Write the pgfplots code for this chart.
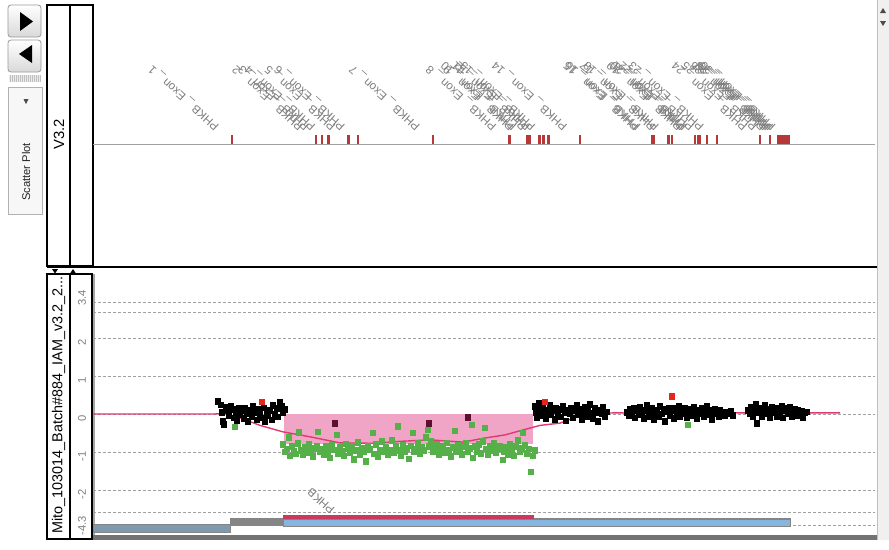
\documentclass[border=0pt]{standalone}
\usepackage{pgfplots}
\pgfplotsset{compat=1.18}
\usepackage{fontspec}
\setmainfont{Liberation Sans}

\definecolor{exred}{HTML}{B8383A}
\definecolor{lblgray}{HTML}{7E7E7E}
\definecolor{tickgray}{HTML}{808080}
\definecolor{gridgray}{HTML}{A0A0A0}
\definecolor{ptgreen}{HTML}{55B04A}
\definecolor{ptred}{HTML}{E8251A}
\definecolor{ptmaroon}{HTML}{5C0F2E}
\definecolor{segpink}{HTML}{F1A5C6}
\definecolor{avgline}{HTML}{DF3A74}
\definecolor{cnvred}{HTML}{C93A5E}
\definecolor{cnvblue}{HTML}{86B6E0}
\definecolor{trackgray}{HTML}{858585}
\definecolor{trackslate}{HTML}{7F9AB0}

\newcommand\fs[1]{\fontsize{#1}{#1}\selectfont}
% exon label: start of text sits just left of / above the exon tick
\newcommand\exonlabel[2]{\node[rotate=138, anchor=west, inner sep=0pt, text=lblgray, font=\fs{5.8pt}] at (axis cs:#1-13.7,16) {PHKB \_ Exon \_ #2};}

\begin{document}
\begin{tikzpicture}
\begin{scope}[x=0.5pt,y=-0.5pt]
  \useasboundingbox (0,0) rectangle (889,540);
  \fill[white] (0,0) rectangle (889,540);
  % navigation buttons
  \shadedraw[top color=white, bottom color=black!15, draw=black!40, rounded corners=1.5pt] (8,5) rectangle (41,37);
  \fill[black] (20,12) -- (20,31) -- (33,21.5) -- cycle;
  \shadedraw[top color=white, bottom color=black!15, draw=black!40, rounded corners=1.5pt] (8,40) rectangle (41,72);
  \fill[black] (32,45) -- (32,63) -- (19,54) -- cycle;
  % grip strip
  \fill[black!8] (9,75) rectangle (40,82);
  \foreach \gx in {10,12,...,40} \draw[black!25, line width=0.4pt] (\gx,75) -- (\gx,82);
  % view selector
  \draw[fill=black!3, draw=black!30] (8,87) rectangle (42,214);
  \fill[black!70] (23.5,99) -- (28.5,99) -- (26,104) -- cycle;
  \node[rotate=90, font=\fs{5.6pt}, text=black!85] at (26,172) {Scatter Plot};
  % track header boxes
  \draw[line width=1pt] (47,5) rectangle (70,266);
  \draw[line width=1pt] (70,5) rectangle (93,266);
  \node[rotate=90, font=\fs{7.4pt}] at (59,134) {V3.2};
  \draw[line width=1pt] (47,267) -- (889,267);
  \fill[black] (52,269) -- (58,269) -- (55,273.5) -- cycle;
  \fill[black] (70,273.5) -- (76,273.5) -- (73,269) -- cycle;
  \draw[line width=0.8pt] (47,274) rectangle (70,539);
  \draw[line width=0.8pt] (70,274) rectangle (92,539);
  \draw[black!35, line width=0.6pt] (94,274) -- (94,535);
  \node[rotate=90, font=\fs{7.2pt}] at (58.5,405) {Mito\_103014\_Batch\#884\_IAM\_v3.2\_2...};
  % bottom band and scroll bar
  \fill[black!55] (93,535) rectangle (877,540);
  \fill[black!6] (877,0) rectangle (889,540);
  \draw[black!25] (877,0) -- (877,540);
  \fill[black!70] (880,13) -- (886,13) -- (883,8) -- cycle;
  \fill[black!70] (880,21) -- (886,21) -- (883,26) -- cycle;
\end{scope}

% ---------- gene / exon track ----------
\begin{axis}[at={(46.5pt,-132.5pt)}, anchor=south west, scale only axis,
  width=391pt, height=130pt, xmin=93, xmax=875, ymin=-121, ymax=139,
  axis lines=none, clip=false]
  \addplot[gridgray, line width=0.5pt] coordinates {(93,0)(875,0)};
  \addplot[ycomb, exred, line width=1.2pt] coordinates {
    (231.7,9)(315.7,9)(321.7,9)(328.3,9)(348.3,9)(357.7,9)(432.7,9)
    (509.3,9)(526.7,9)(529.3,9)(539.3,9)(543.3,9)(548.3,9)(580,9)
    (651.7,9)(653.5,9)(668.3,9)(671.7,9)(695,9)(698,9)(700,9)(706.7,9)(716.7,9)
    (760,9)(770,9)(778.3,9)(781,9)(783.3,9)(786,9)(788.3,9)};
  \exonlabel{231.7}{1}
  \exonlabel{315.7}{2}
  \exonlabel{321.7}{3}
  \exonlabel{328.3}{4}
  \exonlabel{348.3}{5}
  \exonlabel{357.7}{6}
  \exonlabel{432.7}{7}
  \exonlabel{509.3}{8}
  \exonlabel{526.7}{9}
  \exonlabel{529.3}{10}
  \exonlabel{539.3}{11}
  \exonlabel{543.3}{12}
  \exonlabel{548.3}{13}
  \exonlabel{580}{14}
  \exonlabel{651.7}{15}
  \exonlabel{653.5}{16}
  \exonlabel{668.3}{17}
  \exonlabel{671.7}{18}
  \exonlabel{695}{19}
  \exonlabel{698}{20}
  \exonlabel{700}{21}
  \exonlabel{706.7}{22}
  \exonlabel{716.7}{23}
  \exonlabel{760}{24}
  \exonlabel{770}{25}
  \exonlabel{778.3}{26}
  \exonlabel{781}{27}
  \exonlabel{783.3}{28}
  \exonlabel{786}{29}
  \exonlabel{788.3}{30}
\end{axis}

% ---------- log ratio scatter track ----------
% the scale is linear within +-2 and compressed beyond it
\begin{axis}[at={(46.5pt,-267.5pt)}, anchor=south west, scale only axis,
  width=391pt, height=131.5pt, xmin=93, xmax=875, ymin=-3.1842, ymax=3.7368,
  axis line style={draw=none}, xtick=\empty, major tick length=0pt,
  ytick={-2.921,-2,-1,0,1,2,2.947},
  yticklabels={\kern4pt-4.3,-2,-1,0,1,2,\kern9pt 3.4},
  extra y ticks={-2.605,2.658}, extra y tick labels={},
  yticklabel style={rotate=90, anchor=south, font=\fs{5.6pt}, text=tickgray, xshift=-2.3pt},
  /pgf/number format/assume math mode=true,
  ymajorgrids, grid style={gridgray, line width=0.5pt, dash pattern=on 1.5pt off 1pt},
  extra y tick style={grid=major},
  clip=false]
  % aberrant segment
  \addplot[fill=segpink, draw=none] coordinates {(284,0)(533,0)(533,-0.8)(284,-0.8)} -- cycle;
  % copy-number bars
  \addplot[fill=trackslate, draw=trackgray, line width=0.5pt] coordinates {(94,-2.92)(230,-2.92)(230,-3.11)(94,-3.11)} -- cycle;
  \addplot[fill=trackgray, draw=trackgray, line width=0.2pt] coordinates {(230,-2.74)(790,-2.74)(790,-2.92)(230,-2.92)} -- cycle;
  \addplot[fill=cnvblue, draw=trackgray, line width=0.4pt] coordinates {(283,-2.78)(790,-2.78)(790,-2.95)(283,-2.95)} -- cycle;
  \addplot[fill=cnvred, draw=none] coordinates {(283,-2.66)(534,-2.66)(534,-2.76)(283,-2.76)} -- cycle;
  \node[rotate=138, anchor=west, inner sep=0pt, text=lblgray, font=\fs{5.8pt}] at (axis cs:333,-2.58) {PHKB};
  % probes, normal
  \addplot[only marks, mark=square*, mark size=1.4pt, black] coordinates {
    (218,0.33)(221,0.24)(222,0.05)(223,-0.2)(224,-0.27)(226,0.18)(228,0.1)(229,-0.05)
    (231,0.2)(233,0.12)(234,-0.1)(236,0.05)(237,-0.18)(239,0.15)(240,-0.02)(242,0.08)
    (244,-0.12)(245,0.14)(247,0.02)(248,-0.2)(250,0.1)(252,-0.08)(253,0.2)(255,0.05)
    (257,-0.15)(258,0.12)(260,0.0)(262,-0.1)(264,0.16)(265,-0.2)(267,0.05)(268,-0.05)
    (270,0.1)(272,-0.15)(273,0.22)(275,0.0)(277,0.15)(278,-0.08)(280,0.3)(282,0.2)
    (283,0.05)(285,0.12)
    (535,0.20)(536,0.05)(537,-0.10)(539,0.28)(540,0.12)(541,-0.05)(543,0.18)(545,0.02)
    (546,-0.12)(548,0.10)(550,0.22)(551,-0.02)(553,0.08)(555,-0.14)(556,0.15)(558,0.00)
    (560,0.12)(561,-0.08)(563,0.20)(565,0.04)(566,-0.18)(568,0.10)(570,0.00)(571,0.16)
    (573,-0.10)(575,0.08)(577,0.22)(578,-0.02)(580,0.12)(582,-0.14)(583,0.05)(585,0.18)
    (587,-0.06)(588,0.10)(590,0.26)(592,0.02)(593,-0.12)(595,0.14)(597,0.04)(598,-0.20)
    (600,0.10)(602,0.00)(603,0.18)(605,-0.08)(607,0.06)
    (627,0.05)(629,-0.05)(630,0.12)(632,0.00)(634,0.15)(635,-0.10)(637,0.08)(639,-0.02)
    (640,0.18)(642,0.04)(644,-0.12)(645,0.10)(647,0.22)(649,-0.06)(650,0.06)(652,0.14)
    (654,-0.15)(655,0.02)(657,0.10)(659,-0.08)(660,0.20)(662,0.00)(664,0.12)(665,-0.20)
    (667,0.06)(669,0.16)(670,-0.04)(672,0.08)(674,-0.12)(675,0.14)(677,0.02)(679,0.20)
    (680,-0.08)(682,0.10)(684,0.00)(685,0.16)(687,-0.10)(689,0.06)(690,0.12)(692,-0.04)
    (694,0.18)(695,0.02)(697,-0.12)(699,0.10)(700,0.00)(702,0.14)(704,-0.06)(705,0.08)
    (707,0.20)(709,-0.02)(710,0.10)(712,-0.14)(714,0.04)(715,0.12)(717,0.00)(719,-0.08)
    (720,0.10)(722,0.02)(724,0.06)(725,-0.04)(727,0.04)(729,0.00)(731,0.08)(733,-0.04)
    (748,0.10)(750,0.00)(751,0.18)(753,-0.06)(755,0.12)(756,0.26)(757,-0.24)(758,0.04)
    (760,0.16)(762,-0.08)(763,0.08)(765,0.22)(767,0.00)(768,0.12)(770,-0.10)(772,0.18)
    (773,0.04)(775,0.10)(777,-0.06)(778,0.14)(780,0.02)(782,0.20)(783,-0.10)(785,0.08)
    (787,0.14)(788,0.00)(790,0.18)(792,-0.08)(793,0.06)(795,0.12)(797,-0.04)(798,0.10)
    (800,0.02)(802,0.08)(803,-0.10)(805,0.04)(807,0.06)};
  % probes, loss
  \addplot[only marks, mark=square*, mark size=1.4pt, ptgreen] coordinates {
    (235,-0.34)(688,-0.29)
    (283,-0.80)(285,-1.00)(287,-0.92)(289,-0.62)(290,-1.10)(292,-0.85)(294,-0.98)(296,-1.05)
    (298,-0.78)(299,-0.49)(301,-0.95)(303,-1.08)(305,-0.88)(307,-1.02)(309,-0.80)(311,-0.96)
    (313,-1.12)(315,-0.90)(317,-0.84)(318,-0.47)(320,-1.00)(322,-0.92)(324,-1.06)(326,-0.86)
    (328,-0.98)(330,-1.15)(332,-0.82)(334,-0.94)(337,-0.55)(338,-1.04)(340,-0.88)(342,-0.97)
    (344,-1.10)(346,-0.79)(348,-0.92)(350,-1.02)(352,-0.86)(354,-1.20)(356,-0.95)(358,-0.74)
    (360,-1.08)(362,-0.90)(364,-0.98)(366,-1.25)(368,-0.84)(370,-0.93)(373,-0.50)(374,-1.05)
    (376,-0.80)(378,-1.12)(380,-0.94)(382,-0.72)(384,-1.00)(386,-0.88)(388,-1.06)(390,-0.96)
    (392,-0.70)(394,-1.02)(396,-0.86)(398,-0.33)(399,-0.95)(401,-1.10)(403,-0.82)(405,-0.98)
    (407,-0.90)(409,-1.18)(411,-0.84)(413,-0.50)(414,-1.00)(416,-0.92)(418,-0.78)(420,-1.05)
    (422,-0.88)(424,-0.96)(426,-0.62)(428,-0.42)(429,-0.85)(431,-0.72)(433,-1.00)(435,-0.90)
    (437,-0.80)(439,-1.08)(441,-0.94)(443,-0.86)(445,-1.02)(447,-0.76)(449,-0.96)(451,-1.12)
    (453,-0.88)(455,-0.44)(456,-1.00)(458,-0.82)(460,-0.95)(462,-1.06)(464,-0.86)(466,-0.78)
    (468,-1.00)(470,-0.90)(472,-0.29)(473,-1.15)(475,-0.85)(477,-0.98)(479,-0.80)(481,-1.04)
    (483,-0.72)(485,-0.37)(486,-0.92)(488,-1.08)(490,-0.86)(492,-0.96)(494,-0.78)(496,-1.02)
    (498,-0.90)(500,-0.84)(503,-1.21)(504,-0.98)(506,-0.88)(508,-1.06)(510,-0.80)(512,-0.94)
    (514,-1.10)(516,-0.86)(518,-0.70)(520,-1.00)(522,-0.90)(523,-0.50)(525,-0.82)(527,-1.04)
    (529,-0.92)(531,-1.52)(533,-1.10)(535,-0.96)};
  % probes, gain
  \addplot[only marks, mark=square*, mark size=1.4pt, ptred] coordinates {(262,0.32)(545,0.32)(672,0.46)};
  \addplot[only marks, mark=square*, mark size=1.4pt, ptmaroon] coordinates {(335,-0.25)(429,-0.25)(468,-0.09)};
  % moving average
  \addplot[avgline, line width=0.7pt] coordinates {
    (93,0)(215,0)(225,0.02)(240,-0.1)(260,-0.3)(283,-0.47)(310,-0.6)(340,-0.76)(373,-0.77)
    (400,-0.72)(430,-0.68)(463,-0.74)(483,-0.64)(505,-0.55)(523,-0.42)(540,-0.3)(560,-0.24)
    (587,0.02)(620,0.03)(660,0.0)(700,0.05)(740,0.03)(780,0.02)(810,0.03)(840,0.03)};
\end{axis}
\end{tikzpicture}
\end{document}
